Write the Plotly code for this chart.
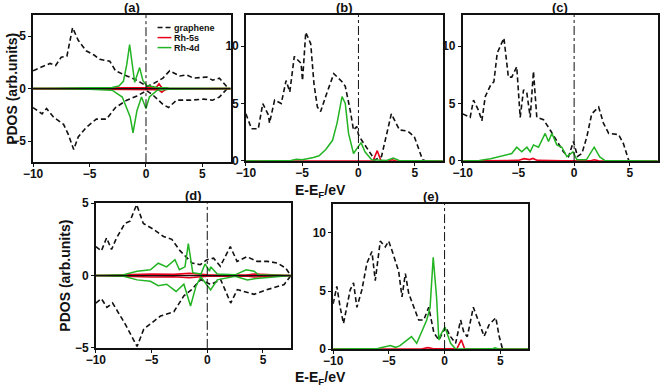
import plotly.graph_objects as go

# ---- panel (a): graphene + Rh (spin up / spin down) ----
a_gr_up_x = [-10.0, -9.2, -8.5, -8.0, -7.5, -7.0, -6.5, -6.0, -5.3, -4.6, -4.1, -3.2, -2.7, -1.7, -1.0, -0.5, 0.1, 0.7, 1.5, 2.1, 3.0, 3.6, 4.2, 5.4, 5.9, 6.5, 7.3]
a_gr_up_y = [1.7, 2.1, 2.4, 2.2, 3.0, 3.1, 5.8, 4.6, 3.6, 3.2, 2.8, 2.6, 1.7, 1.2, 0.9, 0.6, 0.2, 0.5, 1.0, 1.7, 1.2, 1.3, 1.0, 1.1, 0.8, 1.0, 0.0]
a_gr_dn_x = [-10.0, -9.2, -8.8, -8.2, -7.3, -6.9, -6.4, -6.0, -5.3, -4.4, -3.5, -2.7, -1.7, -0.8, 0.06, 0.6, 1.5, 2.0, 2.7, 3.9, 5.1, 5.9, 6.5, 7.2]
a_gr_dn_y = [-1.8, -2.4, -1.9, -2.7, -3.4, -4.3, -5.8, -4.6, -3.7, -2.9, -2.9, -1.8, -1.1, -0.7, -0.2, -0.6, -1.5, -1.8, -1.1, -1.1, -1.0, -1.1, -0.8, 0.0]
a_d_up_x = [-10.0, -5.0, -3.0, -2.4, -2.0, -1.7, -1.45, -1.3, -1.0, -0.56, -0.27, 0.06, 1.0, 2.0, 7.5]
a_d_up_y = [0.0, 0.05, 0.1, 0.25, 0.7, 2.3, 4.2, 3.0, 0.6, 2.0, 0.76, 0.3, 0.1, 0.05, 0.0]
a_d_dn_x = [-10.0, -5.0, -3.0, -2.1, -1.4, -1.15, -0.8, -0.4, 0.0, 0.3, 1.0, 2.0, 7.5]
a_d_dn_y = [0.0, -0.05, -0.15, -0.8, -2.7, -4.2, -2.1, -0.8, -1.9, -0.8, -0.15, -0.05, 0.0]
a_s_up_x = [-10.0, -3.0, -1.5, 0.0, 0.9, 1.15, 1.4, 2.0, 7.5]
a_s_up_y = [0.0, 0.05, 0.08, 0.05, 0.1, 0.45, 0.1, 0.03, 0.0]
a_s_dn_x = [-10.0, -3.0, -1.5, 0.0, 1.1, 1.4, 1.7, 2.0, 7.5]
a_s_dn_y = [0.0, -0.05, -0.08, -0.05, -0.1, -0.35, -0.1, -0.03, 0.0]

# ---- panel (b) ----
b_gr_x = [-10.0, -9.5, -8.9, -8.5, -8.0, -7.9, -7.45, -6.86, -6.43, -6.1, -5.7, -5.1, -4.97, -4.68, -4.24, -3.95, -3.65, -3.36, -2.92, -2.19, -1.46, -1.17, -0.73, -0.44, -0.15, 0.0, 0.29, 0.88, 1.46, 2.05, 2.92, 3.65, 4.39, 4.97, 5.4, 5.7, 6.0]
b_gr_y = [4.1, 2.8, 2.8, 5.0, 4.0, 3.3, 5.3, 5.0, 7.0, 6.0, 9.1, 8.5, 7.0, 11.2, 10.2, 6.7, 4.7, 4.3, 5.6, 7.6, 6.9, 6.5, 4.4, 2.7, 3.0, 2.3, 1.8, 0.95, 0.09, 0.4, 4.1, 2.7, 2.6, 2.1, 1.0, 0.1, 0.0]
b_d_x = [-10.0, -6.0, -5.5, -5.0, -4.0, -3.5, -2.9, -2.3, -1.9, -1.46, -1.17, -0.88, -0.44, -0.15, 0.23, 0.58, 1.17, 2.5, 3.1, 3.6, 7.5]
b_d_y = [0.0, 0.05, 0.15, 0.1, 0.3, 0.45, 1.0, 1.8, 3.3, 5.6, 5.0, 2.4, 0.65, 1.1, 1.6, 0.8, 0.1, 0.05, 0.25, 0.05, 0.0]
b_s_x = [-10.0, 1.3, 1.67, 2.0, 2.7, 3.0, 3.3, 7.5]
b_s_y = [0.0, 0.02, 0.9, 0.02, 0.02, 0.1, 0.02, 0.0]

# ---- panel (c) ----
c_gr_x = [-10.0, -9.33, -9.03, -8.58, -8.28, -7.98, -7.5, -7.2, -6.9, -6.3, -5.9, -5.6, -5.15, -4.84, -4.54, -4.24, -3.94, -3.65, -3.35, -2.75, -2.15, -1.55, -0.96, -0.5, -0.06, 0.3, 0.7, 1.14, 1.58, 2.2, 2.63, 3.1, 3.99, 4.43, 4.88, 5.0]
c_gr_y = [4.1, 3.8, 5.3, 4.4, 3.5, 5.6, 6.6, 6.9, 9.4, 10.7, 7.3, 7.3, 8.2, 3.8, 6.2, 5.9, 3.8, 7.8, 3.8, 3.6, 2.7, 1.8, 0.8, 0.38, 1.7, 0.4, 0.65, 2.1, 4.1, 4.7, 3.3, 2.4, 2.3, 1.5, 0.1, 0.0]
c_d_x = [-10.0, -8.5, -7.5, -6.3, -5.6, -5.15, -4.7, -4.24, -3.94, -3.65, -3.2, -2.6, -2.3, -2.0, -1.55, -1.1, -0.65, -0.1, 0.25, 1.1, 1.8, 2.3, 2.75, 7.5]
c_d_y = [0.0, 0.05, 0.2, 0.5, 0.65, 1.2, 0.8, 1.2, 0.8, 1.4, 1.2, 2.4, 1.7, 2.4, 1.4, 1.2, 0.38, 0.8, 0.1, 0.1, 1.2, 0.35, 0.05, 0.0]
c_s_x = [-10.0, -5.0, -4.5, -4.0, -3.7, -3.3, -1.0, 1.5, 1.8, 2.2, 7.5]
c_s_y = [0.0, 0.05, 0.2, 0.12, 0.22, 0.05, 0.02, 0.02, 0.1, 0.02, 0.0]

# ---- panel (d): spin up / spin down ----
d_gr_up_x = [-10.0, -9.5, -9.04, -8.59, -8.14, -7.39, -6.94, -6.34, -5.74, -4.83, -3.93, -3.18, -2.43, -1.37, -0.63, -0.03, 0.57, 1.17, 2.07, 2.67, 3.57, 4.47, 5.38, 6.28, 7.03, 7.5]
d_gr_up_y = [2.0, 1.7, 2.6, 1.8, 2.6, 3.6, 3.75, 4.9, 3.6, 3.2, 2.7, 2.5, 1.7, 0.87, 0.75, 1.1, 1.2, 0.64, 2.0, 0.98, 1.3, 0.98, 0.98, 0.87, 0.52, 0.0]
d_gr_dn_x = [-10.0, -9.5, -9.0, -8.5, -7.4, -6.3, -5.7, -4.2, -3.0, -2.1, -1.4, -0.6, 0.3, 1.2, 2.1, 2.7, 4.2, 5.4, 6.9, 7.5]
d_gr_dn_y = [-1.9, -1.6, -2.2, -1.9, -3.3, -4.9, -3.7, -2.8, -2.5, -1.4, -0.97, -0.28, -0.62, -0.28, -1.9, -0.97, -1.3, -0.97, -0.62, 0.0]
d_d_up_x = [-10.0, -7.5, -6.3, -5.1, -4.4, -3.65, -2.9, -2.5, -2.0, -1.7, -1.3, -0.57, -0.2, 0.2, 0.3, 0.9, 2.5, 3.5, 4.2, 4.6, 7.5]
d_d_up_y = [0.0, 0.05, 0.3, 0.4, 0.85, 0.6, 1.1, 0.4, 0.6, 2.2, 0.2, 0.1, 0.8, 0.3, 0.6, 0.1, 0.05, 0.4, 0.3, 0.05, 0.0]
d_d_dn_x = [-10.0, -7.5, -6.3, -5.1, -4.4, -3.65, -2.8, -2.1, -1.5, -1.0, -0.57, 0.3, 0.9, 2.5, 3.6, 4.4, 7.5]
d_d_dn_y = [0.0, -0.05, -0.3, -0.4, -0.7, -0.6, -1.1, -0.6, -2.1, -0.7, -0.1, -1.0, -0.3, -0.05, -0.3, -0.2, 0.0]
d_s_up_x = [-10.0, -7.0, -5.0, -3.0, -1.6, 0.0, 1.0, 3.5, 4.2, 7.5]
d_s_up_y = [0.0, 0.05, 0.1, 0.08, 0.15, 0.05, 0.03, 0.03, 0.1, 0.0]
d_s_dn_x = [-10.0, -7.0, -5.0, -3.0, -1.6, 0.0, 1.0, 3.5, 4.2, 7.5]
d_s_dn_y = [0.0, -0.05, -0.1, -0.08, -0.15, -0.05, -0.03, -0.03, -0.1, 0.0]

# ---- panel (e) ----
e_gr_x = [-10.0, -9.67, -9.37, -9.07, -8.47, -8.17, -7.87, -7.42, -6.97, -6.52, -6.22, -5.77, -5.32, -5.02, -4.72, -4.12, -3.82, -3.52, -3.22, -2.77, -2.32, -1.87, -1.42, -0.96, -0.51, 0.09, 0.54, 0.99, 1.44, 1.74, 2.04, 2.58, 3.1, 3.55, 4.0, 4.6, 4.9, 5.2]
e_gr_y = [3.9, 5.4, 3.6, 2.2, 5.1, 5.7, 3.6, 5.1, 7.4, 8.4, 5.9, 9.3, 8.8, 9.3, 8.5, 6.7, 4.5, 6.5, 4.8, 3.6, 2.5, 2.5, 3.6, 1.4, 0.78, 1.9, 1.07, 0.49, 2.5, 1.4, 1.07, 3.6, 2.2, 1.1, 2.1, 2.7, 1.1, 0.0]
e_d_x = [-10.0, -6.0, -4.87, -4.4, -4.0, -2.97, -2.5, -2.0, -1.6, -1.3, -1.02, -0.72, -0.51, -0.36, 0.03, 0.54, 1.0, 4.3, 4.5, 4.8, 7.5]
e_d_y = [0.0, 0.05, 0.3, 0.15, 0.3, 1.07, 0.5, 1.6, 2.5, 3.6, 7.9, 4.5, 0.78, 1.2, 1.9, 0.5, 0.0, 0.02, 0.1, 0.02, 0.0]
e_s_x = [-10.0, -2.0, -1.5, -1.0, 1.1, 1.5, 1.8, 7.5]
e_s_y = [0.0, 0.02, 0.12, 0.02, 0.02, 0.8, 0.02, 0.0]

panel_titles = ["(a)", "(b)", "(c)", "(d)", "(e)"]
legend_names = ["graphene", "Rh-5s", "Rh-4d"]

BLACK = "#111111"
RED = "#e8001c"
GREEN = "#22b422"
FONT = "Liberation Sans, Arial, sans-serif"

# subplot boxes in paper coords (x0, x1, y0, y1)
boxes = [
    (0.050, 0.349, 0.581, 0.961),
    (0.372, 0.670, 0.584, 0.961),
    (0.700, 0.995, 0.584, 0.961),
    (0.145, 0.440, 0.101, 0.475),
    (0.504, 0.799, 0.098, 0.473),
]
yranges = [[-7, 7], [0, 12.7], [0, 12.7], [-5, 5], [0, 12.5]]
ytickvals = [[-5, 0, 5], [0, 5, 10], [0, 5, 10], [-5, 0, 5], [0, 5, 10]]

panels = [
    dict(gr=[(a_gr_up_x, a_gr_up_y), (a_gr_dn_x, a_gr_dn_y)],
         s=[(a_s_up_x, a_s_up_y), (a_s_dn_x, a_s_dn_y)],
         d=[(a_d_up_x, a_d_up_y), (a_d_dn_x, a_d_dn_y)]),
    dict(gr=[(b_gr_x, b_gr_y)], s=[(b_s_x, b_s_y)], d=[(b_d_x, b_d_y)]),
    dict(gr=[(c_gr_x, c_gr_y)], s=[(c_s_x, c_s_y)], d=[(c_d_x, c_d_y)]),
    dict(gr=[(d_gr_up_x, d_gr_up_y), (d_gr_dn_x, d_gr_dn_y)],
         s=[(d_s_up_x, d_s_up_y), (d_s_dn_x, d_s_dn_y)],
         d=[(d_d_up_x, d_d_up_y), (d_d_dn_x, d_d_dn_y)]),
    dict(gr=[(e_gr_x, e_gr_y)], s=[(e_s_x, e_s_y)], d=[(e_d_x, e_d_y)]),
]

fig = go.Figure()
shapes = []
annotations = []

for i, (p, box) in enumerate(zip(panels, boxes)):
    n = "" if i == 0 else str(i + 1)
    xa, ya = "x" + n, "y" + n
    for gx, gy in p["gr"]:
        fig.add_trace(go.Scatter(x=gx, y=gy, xaxis=xa, yaxis=ya, mode="lines",
                                 line=dict(color=BLACK, width=1.6, dash="5px,3px"), showlegend=False))
    for sx, sy in p["s"]:
        fig.add_trace(go.Scatter(x=sx, y=sy, xaxis=xa, yaxis=ya, mode="lines",
                                 line=dict(color=RED, width=1.6), showlegend=False))
    for dx, dy in p["d"]:
        fig.add_trace(go.Scatter(x=dx, y=dy, xaxis=xa, yaxis=ya, mode="lines",
                                 line=dict(color=GREEN, width=1.5), showlegend=False))
    # zero line for spin-resolved panels
    if yranges[i][0] < 0:
        fig.add_trace(go.Scatter(x=[-10, 7.5], y=[0, 0], xaxis=xa, yaxis=ya, mode="lines",
                                 line=dict(color=BLACK, width=1.2), showlegend=False, hoverinfo="skip"))

    axis_common = dict(showline=True, linecolor=BLACK, linewidth=1.5, mirror=True,
                       ticks="outside", ticklen=3, tickwidth=1.2, tickcolor=BLACK,
                       showgrid=False, zeroline=False, automargin=False,
                       tickfont=dict(family=FONT, size=12, color=BLACK, weight="bold"))
    fig.layout["xaxis" + n] = dict(domain=[box[0], box[1]], range=[-10, 7.5], anchor=ya,
                                   tickvals=[-10, -5, 0, 5], ticklabelstandoff=-3, **axis_common)
    fig.layout["yaxis" + n] = dict(domain=[box[2], box[3]], range=yranges[i], anchor=xa,
                                   tickvals=ytickvals[i], **axis_common)

    # Fermi level marker
    shapes.append(dict(type="line", xref=xa, yref=ya + " domain", x0=0, x1=0, y0=0, y1=1,
                       line=dict(color=BLACK, width=1, dash="dashdot")))
    annotations.append(dict(text="<b>%s</b>" % panel_titles[i], xref="paper", yref="paper",
                            x=(box[0] + box[1]) / 2, y=box[3], xanchor="center", yanchor="bottom",
                            showarrow=False, yshift=-2, font=dict(family=FONT, size=13, color=BLACK)))

# legend drawn inside panel (a)
leg_colors = [BLACK, RED, GREEN]
leg_dash = ["5px,3px", "solid", "solid"]
for k, name in enumerate(legend_names):
    yy = 0.915 - k * 0.068
    shapes.append(dict(type="line", xref="x domain", yref="y domain", x0=0.63, x1=0.7,
                       y0=yy, y1=yy, line=dict(color=leg_colors[k], width=1.5, dash=leg_dash[k])))
    annotations.append(dict(text="<b>%s</b>" % name, xref="x domain", yref="y domain", x=0.705,
                            y=yy, xanchor="left", yanchor="middle", showarrow=False,
                            font=dict(family=FONT, size=9, color=BLACK)))

# axis titles
for yc in [0.507, 0.022]:
    annotations.append(dict(text="<b>E-E<sub>F</sub>/eV</b>", xref="paper", yref="paper",
                            x=0.485, y=yc, xanchor="center", yanchor="middle", showarrow=False,
                            font=dict(family=FONT, size=14, color=BLACK)))
for xc, yc in [(0.017, 0.771), (0.097, 0.288)]:
    annotations.append(dict(text="<b>PDOS (arb.units)</b>", xref="paper", yref="paper",
                            x=xc, y=yc, xanchor="center", yanchor="middle", textangle=-90,
                            showarrow=False, font=dict(family=FONT, size=14, color=BLACK)))

fig.update_layout(width=661, height=387, margin=dict(l=0, r=0, t=0, b=0),
                  paper_bgcolor="white", plot_bgcolor="white", showlegend=False,
                  shapes=shapes, annotations=annotations)

fig.write_html("out.html", config={"displayModeBar": False},
               post_script="document.body.style.margin='0';")
